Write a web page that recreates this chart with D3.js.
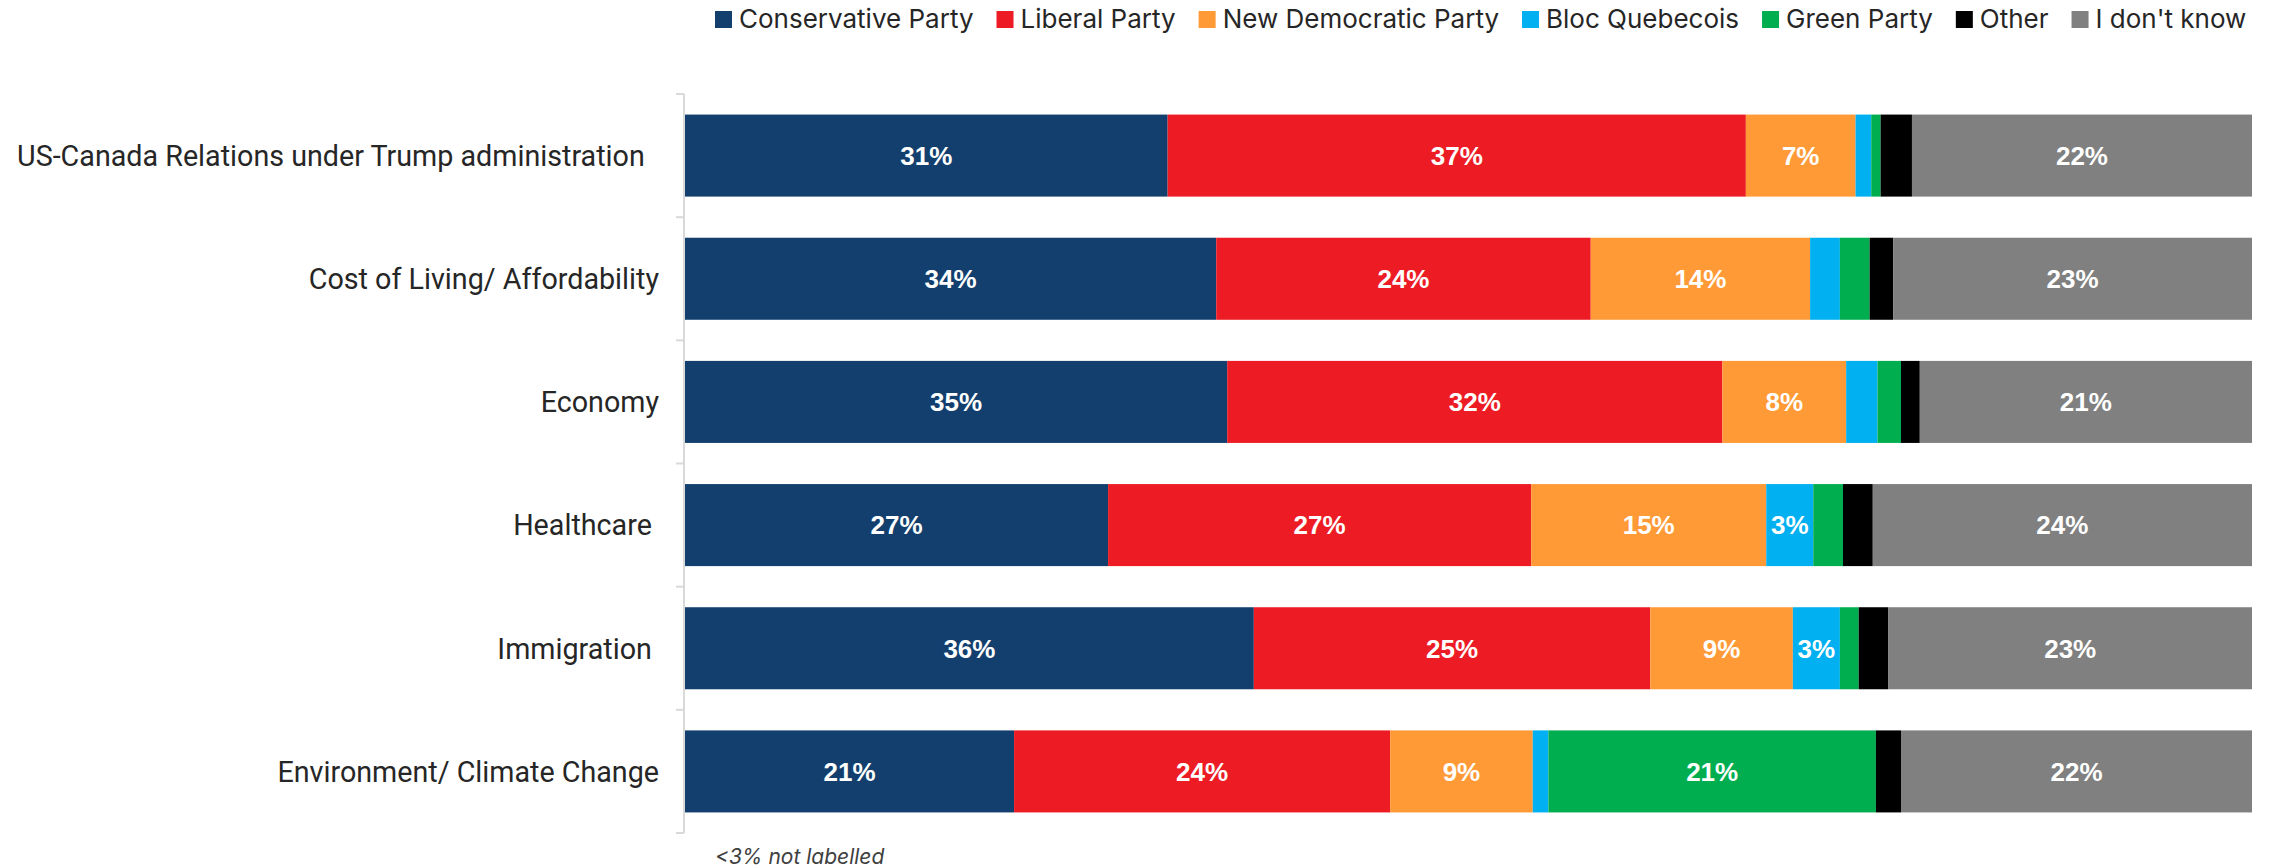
<!DOCTYPE html>
<html>
<head>
<meta charset="utf-8">
<script src="https://cdn.jsdelivr.net/npm/d3@7"></script>
<style>
  html, body { margin: 0; padding: 0; background: #ffffff; }
  svg { display: block; }
</style>
</head>
<body>
<div id="chart"></div>
<script>
// ---- Data ----
const categories = [
  "US-Canada Relations under Trump administration  ",
  "Cost of Living/ Affordability",
  "Economy",
  "Healthcare ",
  "Immigration ",
  "Environment/ Climate Change"
];
const seriesNames = ["Conservative Party", "Liberal Party", "New Democratic Party", "Bloc Quebecois", "Green Party", "Other", "I don't know"];
const seriesColors = ["#133F6E", "#ED1C24", "#FF9A36", "#00B0F0", "#00AE4F", "#000000", "#808080"];

const conservative = [30.8, 33.9, 34.6, 27.0, 36.3, 21.0];
const liberal      = [36.9, 23.9, 31.6, 27.0, 25.3, 24.0];
const ndp          = [ 7.0, 14.0,  7.9, 15.0,  9.1,  9.1];
const bloc         = [ 1.0,  1.9,  2.0,  3.0,  3.0,  1.0];
const green        = [ 0.6,  1.9,  1.5,  1.9,  1.2, 20.9];
const other        = [ 2.0,  1.5,  1.2,  1.9,  1.9,  1.6];
const dontKnow     = [21.7, 22.9, 21.2, 24.2, 23.2, 22.4];
const footnote = "<3% not labelled";

const seriesValues = [conservative, liberal, ndp, bloc, green, other, dontKnow];

// ---- Build table ----
const rows = categories.map((c, i) => {
  const r = { category: c };
  seriesNames.forEach((s, j) => { r[s] = seriesValues[j][i]; });
  return r;
});

const W = 2271, H = 868;
const svg = d3.select("#chart").append("svg")
  .attr("width", W).attr("height", H);

const x = d3.scaleLinear().domain([0, 1]).range([685, 2252]);
const y = d3.scaleBand().domain(categories).range([94, 833])
  .paddingInner(0.334).paddingOuter(0.167);

const stack = d3.stack().keys(seriesNames).offset(d3.stackOffsetExpand);
const stacked = stack(rows);

const color = d3.scaleOrdinal().domain(seriesNames).range(seriesColors);

// ---- Axis (vertical line with ticks between categories) ----
const axisG = svg.append("g").attr("class", "axis");
axisG.append("line")
  .attr("x1", 684).attr("x2", 684)
  .attr("y1", y.range()[0]).attr("y2", y.range()[1])
  .attr("stroke", "#d9d9d9").attr("stroke-width", 2);
const boundaries = d3.range(categories.length + 1).map(i => y.range()[0] + i * y.step());
axisG.selectAll("line.tick").data(boundaries).join("line")
  .attr("class", "tick")
  .attr("x1", 676).attr("x2", 684)
  .attr("y1", d => d).attr("y2", d => d)
  .attr("stroke", "#d9d9d9").attr("stroke-width", 2);

// ---- Bars ----
const layers = svg.append("g").selectAll("g.layer").data(stacked).join("g")
  .attr("class", "layer")
  .attr("fill", d => color(d.key));

layers.selectAll("rect").data(d => d.map(v => ({ key: d.key, v }))).join("rect")
  .attr("x", d => x(d.v[0]))
  .attr("y", d => y(d.v.data.category))
  .attr("width", d => x(d.v[1]) - x(d.v[0]))
  .attr("height", y.bandwidth());

// ---- Value labels (>=3%) ----
const labelsG = svg.append("g");
stacked.forEach(layer => {
  layer.forEach(v => {
    const val = v.data[layer.key];
    if (Math.round(val) >= 3) {
      labelsG.append("text")
        .attr("x", (x(v[0]) + x(v[1])) / 2)
        .attr("y", y(v.data.category) + y.bandwidth() / 2)
        .attr("dy", "0.36em")
        .attr("text-anchor", "middle")
        .attr("fill", "#ffffff")
        .attr("font-family", "'Liberation Sans', Arial, sans-serif")
        .attr("font-weight", "bold")
        .attr("font-size", 26)
        .text(Math.round(val) + "%");
    }
  });
});

// ---- Category labels ----
svg.append("g").selectAll("text").data(categories).join("text")
  .attr("x", 659)
  .attr("y", d => y(d) + y.bandwidth() / 2)
  .attr("dy", "0.36em")
  .attr("text-anchor", "end")
  .attr("xml:space", "preserve")
  .style("white-space", "pre")
  .attr("fill", "#262626")
  .attr("font-family", "Roboto, sans-serif")
  .attr("font-size", 28.7)
  .text(d => d);

// ---- Legend ----
const legend = svg.append("g");
let lx = 715;
seriesNames.forEach((s, i) => {
  legend.append("rect")
    .attr("x", lx).attr("y", 11)
    .attr("width", 17).attr("height", 17)
    .attr("fill", seriesColors[i]);
  const t = legend.append("text")
    .attr("x", lx + 24).attr("y", 28)
    .attr("fill", "#262626")
    .attr("font-family", "Inter, sans-serif")
    .attr("font-size", 26)
    .text(s);
  lx += 24 + t.node().getComputedTextLength() + 23;
});

// ---- Footnote ----
svg.append("text")
  .attr("x", 715).attr("y", 864)
  .attr("fill", "#404040")
  .attr("font-family", "Inter, sans-serif")
  .attr("font-style", "italic")
  .attr("font-size", 21)
  .text(footnote);
</script>
</body>
</html>
